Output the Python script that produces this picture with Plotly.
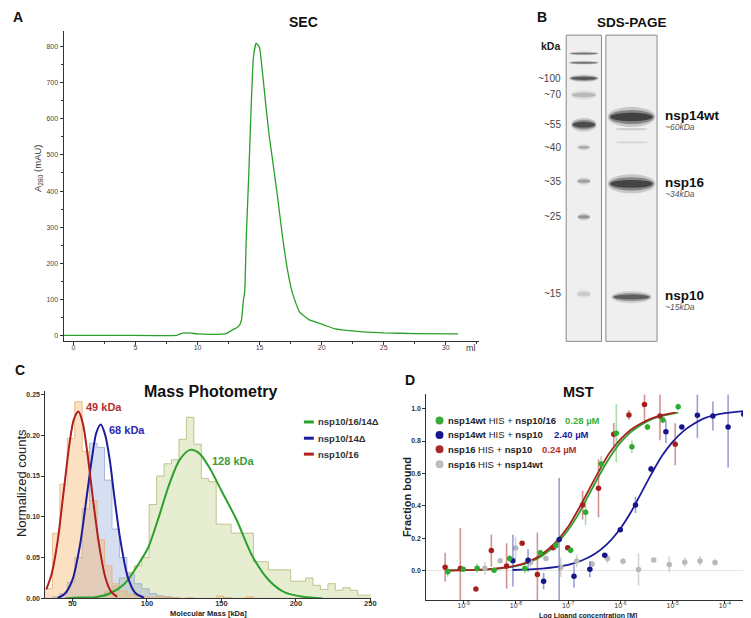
import plotly.graph_objects as go

W, H = 751, 618
FONT = "Arial, Liberation Sans, sans-serif"

# ---------------- Panel A: SEC ----------------
sec_ml = [-0.8, 4.0, 8.3, 8.6, 9.0, 9.5, 10.0, 11.5, 12.3, 12.85, 13.2, 13.4, 13.55, 13.7, 13.8,
          13.92, 14.13, 14.32, 14.5, 14.72, 14.99, 15.25, 15.52, 15.79, 16.05, 16.45, 16.85, 17.25,
          17.65, 18.2, 19.0, 19.8, 20.4, 21.1, 22.2, 23.3, 25.0, 27.5, 31.0]
sec_mau = [0, 0, 0, 4, 7, 6, 4, 3, 5, 16, 22, 29, 45, 98, 120,
           265, 448, 632, 770, 810, 798, 723, 632, 549, 485, 383, 273, 181,
           117, 66, 43, 34, 26, 18, 13, 10, 7, 5, 4]
sec_xticks = [0, 5, 10, 15, 20, 25, 30]
sec_yticks = [0, 100, 200, 300, 400, 500, 600, 700, 800]

# ---------------- Panel B: SDS-PAGE ----------------
marker_labels = ["~100", "~70", "~55", "~40", "~35", "~25", "~15"]
marker_label_pos = [70.7, 87.3, 117.3, 140.0, 174.0, 210.0, 287.3]
marker_band_pos = [45.7, 55.0, 70.7, 87.3, 117.3, 140.0, 174.0, 210.0, 287.3]
marker_band_int = [0.55, 0.6, 0.75, 0.2, 0.85, 0.28, 0.32, 0.38, 0.13]
marker_band_hh = [1.3, 1.3, 2.6, 3.6, 4.8, 2.2, 2.7, 2.7, 3.5]
marker_band_hw = [0.30, 0.30, 0.29, 0.26, 0.25, 0.13, 0.14, 0.13, 0.15]
sample_names = ["nsp14wt", "nsp16", "nsp10"]
sample_mw = ["~60kDa", "~34kDa", "~15kDa"]
sample_band_pos = [109.5, 176.7, 290.5]
sample_band_int = [0.95, 0.93, 0.7]
sample_band_hh = [7.0, 6.6, 4.2]
sample_band_hw = [0.47, 0.47, 0.4]
faint_band_pos = [121.7, 135.0]
faint_band_int = [0.15, 0.1]

# ---------------- Panel C: Mass photometry ----------------
bin_edges = [31.5 + 5 * i for i in range(45)]
hist_10_16 = [0.012, 0.08, 0.14, 0.196, 0.241, 0.18, 0.12, 0.072, 0.04, 0.018, 0.009, 0.005,
              0.003, 0.002, 0.001, 0.003, 0.001, 0.001, 0.0, 0.001, 0.0, 0.0, 0.0, 0.003,
              0.001, 0.0, 0.0, 0.002, 0.0, 0.0, 0.0, 0.0, 0.0, 0.0, 0.0, 0.0, 0.0, 0.0,
              0.0, 0.0, 0.0, 0.0, 0.0, 0.0]
hist_10_14 = [0.0, 0.002, 0.006, 0.02, 0.05, 0.11, 0.19, 0.185, 0.145, 0.085, 0.05, 0.03,
              0.018, 0.012, 0.006, 0.003, 0.002, 0.001, 0.0, 0.0, 0.0, 0.0, 0.0, 0.0,
              0.0, 0.0, 0.0, 0.0, 0.0, 0.0, 0.0, 0.0, 0.0, 0.0, 0.0, 0.0, 0.0, 0.0,
              0.0, 0.0, 0.0, 0.0, 0.0, 0.0]
hist_10_16_14 = [0.0, 0.0, 0.0, 0.0, 0.0, 0.0, 0.001, 0.003, 0.008, 0.015, 0.025, 0.032,
                 0.04, 0.05, 0.115, 0.15, 0.165, 0.17, 0.195, 0.222, 0.189, 0.147, 0.143, 0.091,
                 0.091, 0.08, 0.08, 0.08, 0.045, 0.045, 0.035, 0.035, 0.035, 0.021, 0.021, 0.025,
                 0.016, 0.011, 0.018, 0.01, 0.013, 0.01, 0.004, 0.004]
fit_10_16_kda = [32.4, 36, 40, 44, 48, 51, 54, 57, 60, 64, 68, 72, 76, 80]
fit_10_16_val = [0.011, 0.03, 0.07, 0.13, 0.19, 0.22, 0.229, 0.214, 0.178, 0.118, 0.064, 0.026, 0.008, 0.002]
fit_10_14_kda = [40, 45, 50, 55, 60, 63, 66, 69, 72, 75, 78, 82, 87, 92, 98]
fit_10_14_val = [0.0005, 0.006, 0.023, 0.065, 0.131, 0.171, 0.203, 0.213, 0.2, 0.17, 0.126, 0.073, 0.027, 0.007, 0.001]
fit_10_16_14_kda = [45, 55, 65, 75, 85, 95, 101, 108, 115, 122, 129, 135, 142, 150, 160, 171, 182, 193, 205, 218]
fit_10_16_14_val = [0.0, 0.001, 0.0015, 0.006, 0.018, 0.044, 0.063, 0.100, 0.140, 0.170, 0.182, 0.178,
                    0.160, 0.132, 0.097, 0.051, 0.022, 0.007, 0.002, 0.0]
mp_names = ["nsp10/16/14Δ", "nsp10/14Δ", "nsp10/16"]
mp_peak_labels = ["49 kDa", "68 kDa", "128 kDa"]

# ---------------- Panel D: MST ----------------
green_log = [-9.304, -9.006, -8.74, -8.417, -8.12, -7.829, -7.531, -7.236, -6.951, -6.666, -6.368,
             -6.078, -5.78, -5.482, -5.186, -4.894]
green_val = [-0.008, 0.008, 0.014, 0.002, 0.074, 0.012, 0.11, 0.155, 0.125, 0.36, 0.658, 0.848,
             0.764, 0.887, 0.93, 1.012]
green_err = [0.03, 0.01, 0.03, 0.01, 0.02, 0.03, 0.02, 0.03, 0.02, 0.08, 0.05, 0.18, 0.04, 0.02, 0.02, 0.02]
blue_log = [-8.057, -7.767, -7.469, -7.171, -6.888, -6.584, -6.3, -6.002, -5.711, -5.414, -5.129,
            -4.825, -4.527, -4.23, -3.939, -3.641]
blue_val = [0.061, 0.063, -0.066, 0.192, -0.035, 0.008, 0.094, 0.252, 0.405, 0.627, 0.858, 0.887,
            0.959, 0.955, 0.887, 0.965]
blue_err = [0.16, 0.07, 0.05, 0.38, 0.07, 0.05, 0.0, 0.0, 0.05, 0.02, 0.07, 0.0, 0.14, 0.09, 0.25, 0.02]
red_log = [-9.353, -9.063, -8.765, -8.469, -8.177, -7.88, -7.588, -7.292, -7.008, -6.723, -6.419,
           -6.127, -5.837, -5.539, -5.243, -4.951]
red_val = [0.02, 0.012, -0.115, 0.123, 0.028, 0.168, -0.025, 0.141, 0.141, 0.405, 0.508, 0.842,
           0.961, 1.026, 0.955, 0.78]
red_err = [0.09, 0.25, 0.0, 0.10, 0.14, 0.0, 0.26, 0.0, 0.0, 0.09, 0.18, 0.07, 0.03, 0.10, 0.15, 0.13]
gray_log = [-8.594, -8.30, -8.006, -7.721, -7.425, -7.14, -6.837, -6.54, -6.249, -5.95, -5.653,
            -5.362, -5.065, -4.768, -4.476, -4.19]
gray_val = [0.014, 0.061, 0.139, 0.049, 0.074, 0.02, 0.059, 0.04, 0.074, 0.057, 0.006, 0.065,
            0.037, 0.051, 0.059, 0.049]
gray_err = [0.04, 0.0, 0.07, 0.03, 0.0, 0.06, 0.04, 0.02, 0.03, 0.02, 0.1, 0.0, 0.05, 0.03, 0.03, 0.02]
red_fit_log = [-9.35, -9.0, -8.5, -8.0, -7.75, -7.5, -7.25, -7.0, -6.8, -6.6, -6.4, -6.2, -6.0,
               -5.8, -5.6, -5.4, -5.2, -4.95]
red_fit_val = [0.0, 0.002, 0.008, 0.03, 0.055, 0.1, 0.17, 0.27, 0.38, 0.5, 0.62, 0.73, 0.81, 0.87,
               0.91, 0.94, 0.96, 0.975]
green_fit_log = [-9.30, -9.0, -8.5, -8.0, -7.75, -7.5, -7.25, -7.0, -6.8, -6.6, -6.4, -6.2, -6.0,
                 -5.8, -5.6, -5.4, -5.2, -4.894]
green_fit_val = [0.0, 0.002, 0.007, 0.027, 0.05, 0.09, 0.155, 0.25, 0.35, 0.47, 0.59, 0.70, 0.79,
                 0.855, 0.9, 0.935, 0.955, 0.975]
blue_fit_log = [-8.06, -7.5, -7.0, -6.75, -6.5, -6.25, -6.0, -5.8, -5.6, -5.4, -5.2, -5.0, -4.8,
                -4.6, -4.4, -4.2, -4.0, -3.64]
blue_fit_val = [0.003, 0.012, 0.035, 0.06, 0.10, 0.165, 0.26, 0.36, 0.48, 0.6, 0.71, 0.795, 0.86,
                0.905, 0.94, 0.96, 0.972, 0.985]
mst_exponents = [-9, -8, -7, -6, -5, -4]
mst_names = ["<b>nsp14wt</b> HIS + <b>nsp10/16</b>", "<b>nsp14wt</b> HIS + <b>nsp10</b>",
             "<b>nsp16</b> HIS + <b>nsp10</b>", "<b>nsp16</b> HIS + <b>nsp14wt</b>"]
mst_kd = ["0.28 µM", "2.40 µM", "0.24 µM"]


def pxx(x):
    return x / W


def pyy(y):
    return 1 - y / H


fig = go.Figure()

# ---- A
fig.add_trace(go.Scatter(x=sec_ml, y=sec_mau, mode="lines", xaxis="x", yaxis="y",
                         line=dict(color="#2aa02a", width=1.3, shape="spline", smoothing=0.4),
                         hoverinfo="skip"))

# ---- B (invisible anchor trace so the gel axes exist)
fig.add_trace(go.Scatter(x=[1, 2], y=[0, 0], mode="markers", xaxis="x2", yaxis="y2",
                         marker=dict(opacity=0), hoverinfo="skip"))

# ---- C histograms


def step_xy(edges, vals):
    xs = [edges[0]] + edges[:-1] + [edges[-1]]
    ys = [0] + list(vals) + [0]
    return xs, ys


for vals, fillc, linec in [
    (hist_10_16_14, "rgba(170,190,90,0.28)", "rgba(175,180,110,0.75)"),
    (hist_10_14, "rgba(120,150,210,0.30)", "rgba(140,160,205,0.7)"),
    (hist_10_16, "rgba(245,180,110,0.42)", "rgba(225,175,115,0.75)"),
]:
    xs, ys = step_xy(bin_edges, vals)
    fig.add_trace(go.Scatter(x=xs, y=ys, mode="lines", xaxis="x3", yaxis="y3",
                             line=dict(color=linec, width=1, shape="hv"),
                             fill="tozeroy", fillcolor=fillc, hoverinfo="skip"))

for kx, vy, col in [
    (fit_10_16_14_kda, fit_10_16_14_val, "#2ca02c"),
    (fit_10_14_kda, fit_10_14_val, "#1c1c9c"),
    (fit_10_16_kda, fit_10_16_val, "#b01e1e"),
]:
    fig.add_trace(go.Scatter(x=kx, y=vy, mode="lines", xaxis="x3", yaxis="y3",
                             line=dict(color=col, width=2, shape="spline", smoothing=0.8),
                             hoverinfo="skip"))

# ---- D fits
for lg, vv, col in [
    (green_fit_log, green_fit_val, "#2ca02c"),
    (red_fit_log, red_fit_val, "#a82020"),
    (blue_fit_log, blue_fit_val, "#1c1c9c"),
]:
    fig.add_trace(go.Scatter(x=[10 ** v for v in lg], y=vv, mode="lines", xaxis="x4", yaxis="y4",
                             line=dict(color=col, width=1.8, shape="spline", smoothing=0.8),
                             hoverinfo="skip"))

for lg, vv, ee, col, ecol in [
    (gray_log, gray_val, gray_err, "#b9b9b9", "rgba(185,185,185,0.6)"),
    (blue_log, blue_val, blue_err, "#16168c", "rgba(40,40,160,0.45)"),
    (red_log, red_val, red_err, "#a81e1e", "rgba(170,40,40,0.5)"),
    (green_log, green_val, green_err, "#2eaa2e", "rgba(60,180,60,0.45)"),
]:
    fig.add_trace(go.Scatter(x=[10 ** v for v in lg], y=vv, mode="markers", xaxis="x4", yaxis="y4",
                             marker=dict(color=col, size=5.5),
                             error_y=dict(type="data", array=ee, color=ecol, thickness=1.6, width=0),
                             hoverinfo="skip"))

# ---------------- shapes ----------------
shapes = []

# gel lanes
for xc, hw in [(1, 0.371), (2, 0.5375)]:
    shapes.append(dict(type="rect", xref="x2", yref="y2", x0=xc - hw, x1=xc + hw, y0=27.3, y1=335,
                       fillcolor="#efefef", line=dict(color="#8a8a8a", width=1), layer="below"))


def add_band(xc, yc, hw, hh, inten):
    for scale, a in [(1.45, 0.22), (1.0, 0.45), (0.6, 0.8)]:
        shapes.append(dict(type="circle", xref="x2", yref="y2",
                           x0=xc - hw * (0.85 + 0.15 * scale), x1=xc + hw * (0.85 + 0.15 * scale),
                           y0=yc - hh * scale, y1=yc + hh * scale,
                           fillcolor="rgba(45,45,45,%.3f)" % min(1, a * inten),
                           line=dict(width=0)))


for p, it, hh, hw in zip(marker_band_pos, marker_band_int, marker_band_hh, marker_band_hw):
    add_band(1.0, p, hw, hh, it)
for p, it, hh, hw in zip(sample_band_pos, sample_band_int, sample_band_hh, sample_band_hw):
    add_band(2.0, p, hw, hh, it)
for p, it in zip(faint_band_pos, faint_band_int):
    add_band(2.0, p, 0.35, 1.2, it)

# legend lines for C
for yy, col in zip([416, 432.3, 448.3], ["#2ca02c", "#1c1c9c", "#b01e1e"]):
    shapes.append(dict(type="line", xref="paper", yref="paper", x0=pxx(298.3), x1=pxx(308.3),
                       y0=pyy(yy), y1=pyy(yy), line=dict(color=col, width=3)))

# legend circles for D
for yy, col in zip([414.5, 429, 443.5, 458.5], ["#3aaa3a", "#16168c", "#a82a2a", "#bdbdbd"]):
    shapes.append(dict(type="circle", xref="paper", yref="paper", x0=pxx(431), x1=pxx(439),
                       y0=pyy(yy + 4), y1=pyy(yy - 4), fillcolor=col, line=dict(width=0)))

# ---------------- annotations ----------------
ann = []


def A(text, x, y, size, color="#222", bold=False, xanchor="center", angle=0, italic=False,
      xref="paper", yref="paper"):
    t = text
    if bold:
        t = "<b>%s</b>" % t
    if italic:
        t = "<i>%s</i>" % t
    xx = pxx(x) if xref == "paper" else x
    yy = pyy(y) if yref == "paper" else y
    ann.append(dict(text=t, x=xx, y=yy, xref=xref, yref=yref, showarrow=False, xanchor=xanchor,
                    yanchor="middle", textangle=angle,
                    font=dict(size=size, color=color, family=FONT)))


# panel letters and titles
A("A", 10.5, 9.5, 14, "#111", True)
A("B", 538, 9.5, 14, "#111", True)
A("C", 12, 363.5, 14, "#111", True)
A("D", 405, 373.5, 14, "#111", True)
A("SEC", 298.3, 14.5, 14, "#111", True)
A("SDS-PAGE", 628.8, 14.5, 13.5, "#111", True)
A("Mass Photometry", 203.8, 385.5, 16, "#111", True)
A("MST", 574.7, 385.5, 14.5, "#111", True)

# A axes labels
A("A<sub>280</sub> (mAU)", 30, 161, 9.5, "#333", angle=-90)
A("ml", 466.5, 342, 9, "#333")

# B labels
A("kDa", 558.5, 38.3, 10.5, "#222", True, xanchor="right")
for lab, pos in zip(marker_labels, marker_label_pos):
    A(lab, 0.552, pos, 10, "#444", xanchor="right", xref="x2", yref="y2")
for nm, mw, pos in zip(sample_names, sample_mw, sample_band_pos):
    A(nm, 2.66, pos - 1.5, 13.5, "#111", True, xanchor="left", xref="x2", yref="y2")
    A(mw, 2.66, pos + 10, 8.5, "#555", italic=True, xanchor="left", xref="x2", yref="y2")

# C labels
A("Normalized counts", 13.5, 477, 13, "#222", angle=-90)
A("Molecular Mass [kDa]", 202, 608, 7.5, "#222", True)
A(mp_peak_labels[0], 96.7, 400.5, 11, "#b03030", True)
A(mp_peak_labels[1], 119.5, 424, 11, "#2b2bb0", True)
A(mp_peak_labels[2], 226.7, 455.5, 11, "#3a9d3a", True)
for nm, yy in zip(mp_names, [416, 432.3, 448.3]):
    A(nm, 310.5, yy, 9.5, "#333", True, xanchor="left")

# D labels
A("Fraction bound", 401.7, 491, 11, "#222", True, angle=-90)
A("Log Ligand concentration [M]", 584.7, 610.5, 7, "#222", True)
for nm, yy in zip(mst_names, [414.5, 429, 443.5, 458.5]):
    A(nm, 441.5, yy, 9.5, "#222", xanchor="left")
for kd, xx, yy, col in zip(mst_kd, [559, 548.3, 536], [414.5, 429, 443.5],
                           ["#3cb03c", "#2020a0", "#b03030"]):
    A(kd, xx, yy, 9.5, col, True, xanchor="left")

axis_common = dict(showgrid=False, zeroline=False, showline=True, linecolor="#333", linewidth=1,
                   ticks="outside", tickcolor="#333", ticklen=3, tickwidth=1)

fig.update_layout(
    width=W, height=H, margin=dict(l=0, r=0, t=0, b=0),
    paper_bgcolor="white", plot_bgcolor="white", showlegend=False,
    font=dict(family=FONT, color="#222"),
    xaxis=dict(axis_common, domain=[pxx(56), pxx(475)], range=[-0.8, 32.7], anchor="y",
               tickvals=sec_xticks, tickfont=dict(size=7, color="#444"), ticklabelstandoff=-4,
               minor=dict(dtick=2.5, tick0=0, ticks="outside", ticklen=2, tickcolor="#333")),
    yaxis=dict(axis_common, domain=[pyy(335), pyy(23.3)], range=[-16.6, 843], anchor="x",
               tickvals=sec_yticks, tickfont=dict(size=7, color="#444"),
               minor=dict(dtick=50, tick0=0, ticks="outside", ticklen=2, tickcolor="#333")),
    xaxis2=dict(domain=[pxx(540), 1.0], range=[(540 - 532.5) / 48, (751 - 532.5) / 48],
                anchor="y2", visible=False),
    yaxis2=dict(domain=[pyy(339.9), 1.0], range=[339.9, 0], anchor="x2", visible=False),
    xaxis3=dict(axis_common, domain=[pxx(37.7), pxx(366)], range=[31.8, 250.5], anchor="y3",
                tickvals=[50, 100, 150, 200, 250], ticklabelstandoff=-5,
                tickfont=dict(size=7.5, color="#333", weight="bold")),
    yaxis3=dict(axis_common, domain=[pyy(593.3), pyy(385)], range=[0, 0.254], anchor="x3",
                tickvals=[0, 0.05, 0.10, 0.15, 0.20, 0.25], tickformat=".2f",
                tickfont=dict(size=7, color="#333", weight="bold")),
    xaxis4=dict(axis_common, type="log", domain=[pxx(421.7), pxx(748.3)], range=[-9.713, -3.514],
                anchor="y4", tickvals=[10 ** e for e in mst_exponents], ticklabelstandoff=-5,
                ticktext=["10<sup>%d</sup>" % e for e in mst_exponents],
                tickfont=dict(size=7, color="#333")),
    yaxis4=dict(axis_common, domain=[pyy(595), pyy(388.3)], range=[-0.183, 1.088], anchor="x4",
                tickvals=[0, 0.2, 0.4, 0.6, 0.8, 1.0], tickformat=".1f",
                tickfont=dict(size=7, color="#333", weight="bold"),
                zeroline=True, zerolinecolor="#e6e6e6", zerolinewidth=1),
    shapes=shapes, annotations=ann,
)

fig.write_html("out.html")
